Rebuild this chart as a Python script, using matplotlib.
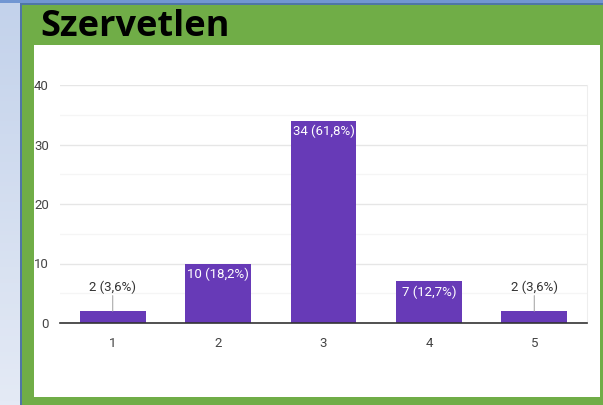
import matplotlib.pyplot as plt
import matplotlib.patches as mpatches
import numpy as np
from matplotlib import font_manager
from matplotlib.colors import LinearSegmentedColormap

# answer counts for the scale 1..5
categories = ["1", "2", "3", "4", "5"]
counts = [2, 10, 34, 7, 2]
percents = ["3,6%", "18,2%", "61,8%", "12,7%", "3,6%"]

names = {f.name for f in font_manager.fontManager.ttflist}
narrow = "Liberation Sans Narrow" if "Liberation Sans Narrow" in names else "Roboto"

W, H = 603, 405
fig = plt.figure(figsize=(W / 100, H / 100), dpi=100)
fig.patch.set_facecolor("#70ad47")

def px_rect(x0, y0, x1, y1, color):
    # rectangle given in pixel coords measured from the top-left corner
    r = mpatches.Rectangle((x0 / W, 1 - y1 / H), (x1 - x0) / W, (y1 - y0) / H,
                           transform=fig.transFigure, facecolor=color,
                           edgecolor="none", zorder=-5)
    fig.patches.append(r)

# slide frame: blue strip on the left and top
grad = fig.add_axes([0, 0, 20 / W, 1], zorder=-10)
grad.imshow(np.linspace(0, 1, 100).reshape(-1, 1),
            cmap=LinearSegmentedColormap.from_list("b", ["#c3d2eb", "#e4eaf5"]),
            aspect="auto", extent=[0, 1, 0, 1], origin="upper")
grad.axis("off")
px_rect(20, 0, 22, H, "#4f76a6")
px_rect(0, 0, W, 3, "#7196d2")
px_rect(20, 3, W, 5, "#4f76a6")
px_rect(34, 45, 600, 397, "white")

fig.text(40 / W, 1 - 27 / H, "Szervetlen", fontsize=26, fontweight="bold",
         family="Open Sans", color="black", va="center", ha="left")

ax = fig.add_axes([60 / W, 82 / H, 527 / W, 238 / H])
ax.set_facecolor("white")
x = np.arange(len(categories))
ax.bar(x, counts, width=0.626, color="#673ab7", zorder=3)
ax.set_xlim(-0.5, len(categories) - 0.5)
ax.set_ylim(0, 40)

ax.set_yticks([0, 10, 20, 30, 40])
ax.set_yticks([5, 15, 25, 35], minor=True)
ax.grid(axis="y", which="major", color="#e6e6e6", lw=1, zorder=0)
ax.grid(axis="y", which="minor", color="#f5f5f5", lw=1, zorder=0)
ax.set_xticks(x)
ax.set_xticklabels(categories)
ax.tick_params(axis="both", which="both", length=0, labelsize=9.5, labelcolor="#444444")
ax.tick_params(axis="x", pad=10)
ax.tick_params(axis="y", pad=8)
for lab in ax.get_xticklabels() + ax.get_yticklabels():
    lab.set_family(narrow)

for s in ["left", "top"]:
    ax.spines[s].set_visible(False)
ax.spines["right"].set_color("#eeeeee")
ax.spines["bottom"].set_color("#333333")
ax.spines["bottom"].set_linewidth(1.2)
ax.spines["bottom"].set_zorder(4)

for xi, c, p in zip(x, counts, percents):
    txt = f"{c} ({p})"
    if c >= 5:
        ax.annotate(txt, (xi, c), xytext=(0, -8), textcoords="offset points",
                    ha="center", va="center", color="white", fontsize=9.5,
                    family=narrow, zorder=5)
    else:
        ax.annotate(txt, (xi, c), xytext=(0, 17), textcoords="offset points",
                    ha="center", va="center", color="#333333", fontsize=9.5,
                    family=narrow, zorder=5)
        ax.annotate("", (xi, c), xytext=(xi, c + 2.6),
                    arrowprops=dict(arrowstyle="-", color="#aaaaaa", lw=0.8,
                                    shrinkA=0, shrinkB=0), zorder=4)

fig.savefig("out.png", dpi=100, facecolor=fig.get_facecolor())
